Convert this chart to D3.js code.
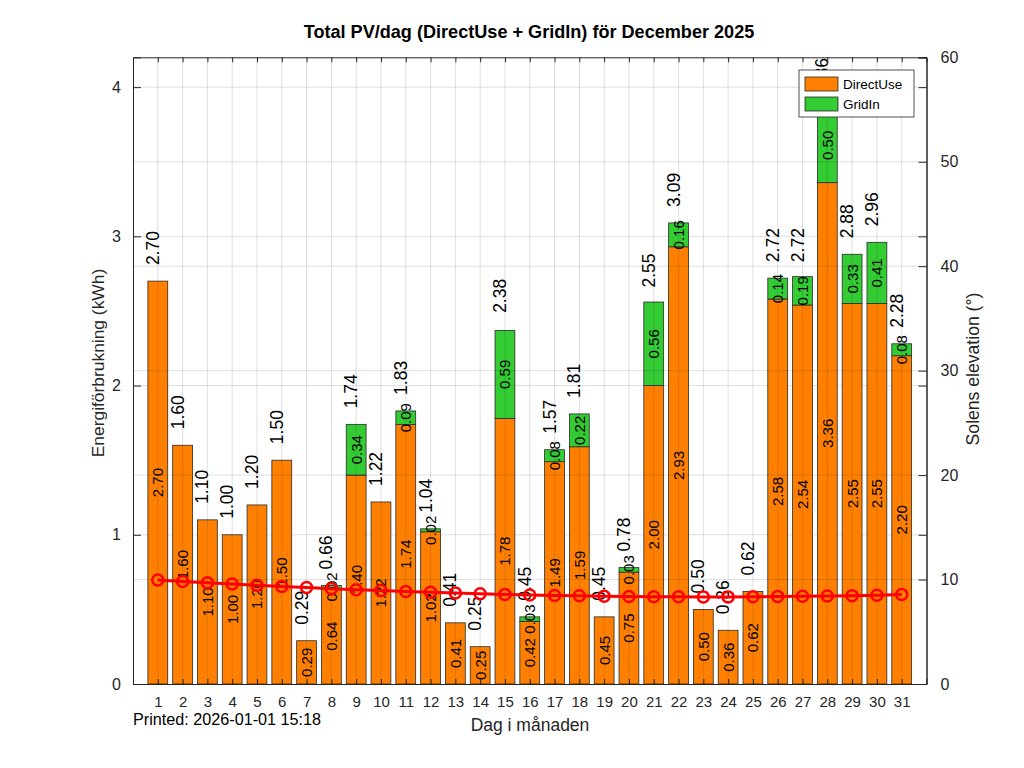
<!DOCTYPE html>
<html>
<head>
<meta charset="utf-8">
<script src="https://cdn.jsdelivr.net/npm/d3@7"></script>
<style>
  body { margin: 0; background: #fff; }
  svg { display: block; font-family: "Liberation Sans", Arial, sans-serif; }
</style>
</head>
<body>
<script>
const days = d3.range(1, 32);
const directUse = [2.70, 1.60, 1.10, 1.00, 1.20, 1.50, 0.29, 0.64, 1.40, 1.22,
  1.74, 1.02, 0.41, 0.25, 1.78, 0.42, 1.49, 1.59, 0.45, 0.75,
  2.00, 2.93, 0.50, 0.36, 0.62, 2.58, 2.54, 3.36, 2.55, 2.55, 2.20];
const gridIn = [0, 0, 0, 0, 0, 0, 0, 0.02, 0.34, 0,
  0.09, 0.02, 0, 0, 0.59, 0.03, 0.08, 0.22, 0, 0.03,
  0.56, 0.16, 0, 0, 0, 0.14, 0.19, 0.50, 0.33, 0.41, 0.08];
const totals = [2.70, 1.60, 1.10, 1.00, 1.20, 1.50, 0.29, 0.66, 1.74, 1.22,
  1.83, 1.04, 0.41, 0.25, 2.38, 0.45, 1.57, 1.81, 0.45, 0.78,
  2.55, 3.09, 0.50, 0.36, 0.62, 2.72, 2.72, 3.86, 2.88, 2.96, 2.28];
const sunElev = [9.95, 9.82, 9.69, 9.57, 9.45, 9.34, 9.23, 9.13, 9.03, 8.94,
  8.86, 8.78, 8.71, 8.64, 8.58, 8.53, 8.48, 8.44, 8.41, 8.38,
  8.36, 8.35, 8.34, 8.34, 8.35, 8.37, 8.40, 8.43, 8.46, 8.50, 8.56];
const leftTicks = [0, 1, 2, 3, 4];
const rightTicks = [0, 10, 20, 30, 40, 50, 60];

const width = 1024, height = 768;
const margin = { top: 57.3, right: 97.5, bottom: 84, left: 133 };
const axisColor = "#262626";
const orange = "#ff8000", green = "#33cc33";

const x = d3.scaleLinear().domain([0, 32]).range([margin.left, width - margin.right]);
const y = d3.scaleLinear().domain([0, 4.2]).range([height - margin.bottom, margin.top]);
const y2 = d3.scaleLinear().domain([0, 60]).range([height - margin.bottom, margin.top]);
const bw = x(0.8) - x(0);

const svg = d3.select("body").append("svg")
  .attr("width", width).attr("height", height);

// grid under bars (left axis)
const gridUnder = svg.append("g").attr("stroke", "rgba(38,38,38,0.15)").attr("stroke-width", 1);
gridUnder.selectAll("line").data(leftTicks.slice(1)).join("line")
  .attr("x1", margin.left).attr("x2", width - margin.right)
  .attr("y1", d => y(d)).attr("y2", d => y(d));

// bars
const bars = svg.append("g").attr("stroke", "#2a2a2a").attr("stroke-width", 0.8);
bars.selectAll("rect.d").data(days).join("rect")
  .attr("class", "d")
  .attr("x", d => x(d) - bw / 2).attr("width", bw)
  .attr("y", (d, i) => y(directUse[i]))
  .attr("height", (d, i) => y(0) - y(directUse[i]))
  .attr("fill", orange);
bars.selectAll("rect.g").data(days.filter((d, i) => gridIn[i] > 0)).join("rect")
  .attr("class", "g")
  .attr("x", d => x(d) - bw / 2).attr("width", bw)
  .attr("y", d => y(directUse[d - 1] + gridIn[d - 1]))
  .attr("height", d => y(directUse[d - 1]) - y(directUse[d - 1] + gridIn[d - 1]))
  .attr("fill", green);

// grid over bars (second axes)
const gridOver = svg.append("g").attr("stroke", "rgba(38,38,38,0.15)").attr("stroke-width", 1);
gridOver.selectAll("line.v").data(days).join("line")
  .attr("class", "v")
  .attr("x1", d => x(d)).attr("x2", d => x(d))
  .attr("y1", margin.top).attr("y2", height - margin.bottom);
gridOver.selectAll("line.h").data(rightTicks.slice(1, -1)).join("line")
  .attr("class", "h")
  .attr("x1", margin.left).attr("x2", width - margin.right)
  .attr("y1", d => y2(d)).attr("y2", d => y2(d));

// labels inside segments
const labels = svg.append("g").attr("fill", "#000");
labels.selectAll("text.d").data(days).join("text")
  .attr("class", "d")
  .attr("transform", (d, i) => `translate(${x(d)},${y(directUse[i] / 2)}) rotate(-90)`)
  .attr("text-anchor", "middle").attr("dominant-baseline", "central")
  .attr("font-size", 15)
  .text((d, i) => directUse[i].toFixed(2));
labels.selectAll("text.g").data(days.filter((d, i) => gridIn[i] > 0)).join("text")
  .attr("class", "g")
  .attr("transform", d => `translate(${x(d)},${y(directUse[d - 1] + gridIn[d - 1] / 2)}) rotate(-90)`)
  .attr("text-anchor", "middle").attr("dominant-baseline", "central")
  .attr("font-size", 15)
  .text(d => gridIn[d - 1].toFixed(2));
labels.selectAll("text.t").data(days).join("text")
  .attr("class", "t")
  .attr("transform", (d, i) => `translate(${x(d) + 1},${y(totals[i]) - 16}) rotate(-90)`)
  .attr("text-anchor", "start")
  .attr("font-size", 17.5)
  .text((d, i) => totals[i].toFixed(2));

// sun elevation line
const line = d3.line().x((d, i) => x(days[i])).y(d => y2(d));
svg.append("path").datum(sunElev)
  .attr("d", line).attr("fill", "none")
  .attr("stroke", "#ff0000").attr("stroke-width", 3);
svg.append("g").selectAll("circle").data(sunElev).join("circle")
  .attr("cx", (d, i) => x(days[i])).attr("cy", d => y2(d)).attr("r", 5.5)
  .attr("fill", "none").attr("stroke", "#ff0000").attr("stroke-width", 2.5);

// axes
const axLeft = svg.append("g").attr("transform", `translate(${margin.left},0)`)
  .call(d3.axisLeft(y).tickValues(leftTicks).tickSize(-8).tickPadding(12).tickFormat(d3.format("d")));
const axLeftMirror = svg.append("g").attr("transform", `translate(${width - margin.right},0)`)
  .call(d3.axisRight(y).tickValues(leftTicks).tickSize(-8).tickFormat(""));
const axRight = svg.append("g").attr("transform", `translate(${width - margin.right},0)`)
  .call(d3.axisRight(y2).tickValues(rightTicks).tickSize(-8).tickPadding(14).tickFormat(d3.format("d")));
const axBottom = svg.append("g").attr("transform", `translate(0,${height - margin.bottom})`)
  .call(d3.axisBottom(x).tickValues(days).tickSize(-5).tickPadding(12));
const axTop = svg.append("g").attr("transform", `translate(0,${margin.top})`)
  .call(d3.axisTop(x).tickValues(days).tickSize(-5).tickFormat(""));

[axLeft, axLeftMirror, axRight, axBottom, axTop].forEach(g => {
  g.select(".domain").attr("stroke", axisColor).attr("stroke-width", 1);
  g.selectAll(".tick line").attr("stroke", axisColor);
  g.selectAll(".tick text").attr("fill", axisColor).attr("font-size", 16)
    .attr("font-family", "Liberation Sans, Arial, sans-serif");
});
axBottom.selectAll(".tick text").attr("font-size", 15);

// legend
const lg = svg.append("g").attr("transform", "translate(799,70)");
lg.append("rect").attr("width", 115).attr("height", 47)
  .attr("fill", "#fff").attr("stroke", "#262626").attr("stroke-width", 0.8);
const legendItems = [["DirectUse", orange], ["GridIn", green]];
legendItems.forEach(([name, col], i) => {
  lg.append("rect").attr("x", 6).attr("y", 7 + i * 20).attr("width", 33).attr("height", 14)
    .attr("fill", col).attr("stroke", "#2a2a2a").attr("stroke-width", 0.8);
  lg.append("text").attr("x", 44).attr("y", 19 + i * 20)
    .attr("font-size", 13.5).attr("fill", "#000").text(name);
});

// texts
svg.append("text").attr("x", 529).attr("y", 38).attr("text-anchor", "middle")
  .attr("font-size", 18.1).attr("font-weight", "bold").attr("fill", "#000")
  .text("Total PV/dag (DirectUse + GridIn) för December 2025");
svg.append("text").attr("x", 530).attr("y", 731).attr("text-anchor", "middle")
  .attr("font-size", 17.5).attr("fill", axisColor).text("Dag i månaden");
svg.append("text").attr("transform", `translate(104,363) rotate(-90)`)
  .attr("text-anchor", "middle").attr("font-size", 17.4).attr("fill", axisColor)
  .text("Energiförbrukning (kWh)");
svg.append("text").attr("transform", `translate(979,369) rotate(-90)`)
  .attr("text-anchor", "middle").attr("font-size", 17.6).attr("fill", axisColor)
  .text("Solens elevation (°)");
svg.append("text").attr("x", 133).attr("y", 725)
  .attr("font-size", 16.2).attr("fill", "#000").text("Printed: 2026-01-01 15:18");
</script>
</body>
</html>
